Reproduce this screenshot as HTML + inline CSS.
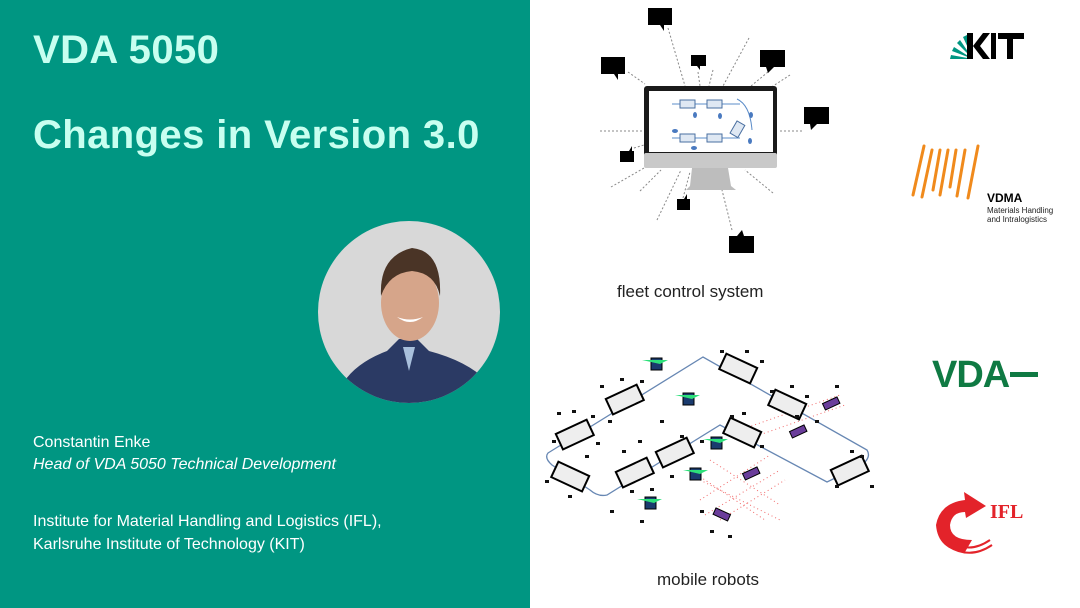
<!DOCTYPE html>
<html><head><meta charset="utf-8">
<style>
html,body{margin:0;padding:0;}
body{width:1080px;height:608px;position:relative;overflow:hidden;background:#fff;font-family:"Liberation Sans",Arial,sans-serif;}
#left{position:absolute;left:0;top:0;width:530px;height:608px;background:#009682;}
.t{position:absolute;left:33px;color:#c8fff0;font-weight:bold;font-size:40px;letter-spacing:0.4px;white-space:nowrap;}
.s{position:absolute;left:33px;color:#fff;font-size:16px;white-space:nowrap;}
</style></head><body>
<div id="left">
<div class="t" style="top:28px;">VDA 5050</div>
<div class="t" style="top:113px;">Changes in Version 3.0</div>
<svg style="position:absolute;left:317px;top:221px" width="184" height="184" viewBox="0 0 184 184">
<defs><clipPath id="c"><circle cx="92" cy="91" r="91"/></clipPath></defs>
<g clip-path="url(#c)">
<rect width="184" height="184" fill="#d8d8d8"/>
<path d="M20 175 Q30 145 70 130 L82 118 L100 118 L112 130 Q150 140 170 160 L184 184 L0 184 Z" fill="#2b3a64"/>
<path d="M86 126 L92 150 L98 126 Z" fill="#a9c0dc"/>
<ellipse cx="93" cy="82" rx="29" ry="38" fill="#d6a58a"/>
<path d="M64 75 Q62 35 95 27 Q125 30 123 75 Q118 52 95 50 Q72 52 64 75 Z" fill="#4a3426"/>
<path d="M80 96 Q93 106 106 96 Q93 101 80 96Z" fill="#fff"/>
</g></svg>
<div class="s" style="top:434px;">Constantin Enke</div>
<div class="s" style="top:456px;font-style:italic;">Head of VDA 5050 Technical Development</div>
<div class="s" style="top:513px;">Institute for Material Handling and Logistics (IFL),</div>
<div class="s" style="top:536px;">Karlsruhe Institute of Technology (KIT)</div>
</div>

<svg style="position:absolute;left:530px;top:0" width="550" height="608" viewBox="530 0 550 608">
<g stroke="#888" stroke-width="1" stroke-dasharray="2,2">
<line x1="668" y1="28" x2="685" y2="86"/><line x1="628" y1="72" x2="645" y2="84"/>
<line x1="698" y1="72" x2="700" y2="86"/><line x1="713" y1="70" x2="709" y2="86"/>
<line x1="749" y1="38" x2="723" y2="86"/><line x1="768" y1="72" x2="751" y2="86"/>
<line x1="790" y1="75" x2="770" y2="88"/><line x1="600" y1="131" x2="644" y2="131"/>
<line x1="780" y1="131" x2="803" y2="131"/><line x1="634" y1="148" x2="644" y2="145"/>
<line x1="611" y1="187" x2="644" y2="168"/><line x1="640" y1="191" x2="661" y2="170"/>
<line x1="657" y1="220" x2="681" y2="170"/><line x1="683" y1="198" x2="690" y2="172"/>
<line x1="773" y1="193" x2="745" y2="170"/><line x1="732" y1="230" x2="722" y2="190"/>
</g>
<g fill="#000">
<rect x="648" y="8" width="24" height="17"/><path d="M660 25 L664 31 L664 25Z"/>
<rect x="601" y="57" width="24" height="17"/><path d="M614 74 L618 80 L618 74Z"/>
<rect x="691" y="55" width="15" height="11"/><path d="M697 66 L700 70 L700 66Z"/>
<rect x="760" y="50" width="25" height="17"/><path d="M766 67 L768 73 L774 67Z"/>
<rect x="804" y="107" width="25" height="17"/><path d="M810 124 L811 130 L817 124Z"/>
<rect x="620" y="151" width="14" height="11"/><path d="M629 151 L632 146 L632 151Z"/>
<rect x="677" y="199" width="13" height="11"/><path d="M684 199 L687 194 L687 199Z"/>
<rect x="729" y="236" width="25" height="17"/><path d="M737 236 L742 230 L744 236Z"/>
</g>
<rect x="644" y="86" width="133" height="82" rx="3" fill="#1a1a1a"/>
<rect x="649" y="91" width="124" height="61" fill="#fff"/>
<rect x="644" y="153" width="133" height="15" rx="2" fill="#c9c9c9"/>
<path d="M692 168 L728 168 L731 186 L736 190 L686 190 L690 186Z" fill="#bdbdbd"/>
<g fill="none" stroke="#5b8cc8" stroke-width="1">
<line x1="672" y1="104" x2="740" y2="104"/><line x1="672" y1="138" x2="740" y2="138"/>
<path d="M737 99 Q750 105 752 130" /></g>
<g fill="#dfe8f3" stroke="#4a6fa0" stroke-width="1">
<rect x="680" y="100" width="15" height="8"/><rect x="707" y="100" width="15" height="8"/>
<rect x="680" y="134" width="15" height="8"/><rect x="707" y="134" width="15" height="8"/>
<rect x="733" y="122" width="9" height="14" transform="rotate(30 737 129)"/>
</g>
<g fill="#4a7ac0"><ellipse cx="695" cy="115" rx="2" ry="3"/><ellipse cx="720" cy="116" rx="2" ry="3"/><ellipse cx="675" cy="131" rx="3" ry="2"/><ellipse cx="694" cy="148" rx="3" ry="2"/><ellipse cx="751" cy="115" rx="2" ry="3"/><ellipse cx="750" cy="141" rx="2" ry="3"/></g>
<text x="617" y="297" font-family="'Liberation Sans',sans-serif" font-size="17" fill="#222">fleet control system</text>

<path d="M548 453 L703 357 L867 450 Q872 458 860 466 L827 482 L720 425 L607 495 Q598 497 590 490 L552 465 Q544 458 548 453Z" fill="none" stroke="#6787b3" stroke-width="1.3"/>
<g stroke="#e44" stroke-width="1" stroke-dasharray="1,3" opacity="0.8">
<line x1="700" y1="480" x2="780" y2="520"/><line x1="690" y1="470" x2="765" y2="520"/><line x1="710" y1="460" x2="780" y2="505"/>
<line x1="705" y1="515" x2="780" y2="470"/><line x1="700" y1="500" x2="770" y2="455"/><line x1="720" y1="520" x2="785" y2="480"/>
<line x1="740" y1="430" x2="840" y2="395"/><line x1="745" y1="440" x2="845" y2="405"/>
</g>
<g stroke="#000" stroke-width="2" fill="#eee">
<rect x="608" y="391" width="34" height="17" transform="rotate(-25 625 400)"/>
<rect x="558" y="426" width="34" height="17" transform="rotate(-25 575 435)"/>
<rect x="553" y="468" width="34" height="17" transform="rotate(25 570 477)"/>
<rect x="618" y="464" width="34" height="17" transform="rotate(-25 635 473)"/>
<rect x="658" y="444" width="34" height="17" transform="rotate(-25 675 453)"/>
<rect x="721" y="360" width="34" height="17" transform="rotate(25 738 369)"/>
<rect x="770" y="396" width="34" height="17" transform="rotate(25 787 405)"/>
<rect x="725" y="424" width="34" height="17" transform="rotate(25 742 433)"/>
<rect x="833" y="462" width="34" height="17" transform="rotate(-25 850 471)"/>
</g>
<g fill="#6a3d9a" stroke="#000" stroke-width="1">
<rect x="823" y="400" width="16" height="7" transform="rotate(-25 831 403)"/>
<rect x="790" y="428" width="16" height="7" transform="rotate(-25 798 431)"/>
<rect x="743" y="470" width="16" height="7" transform="rotate(-25 751 473)"/>
<rect x="714" y="511" width="16" height="7" transform="rotate(25 722 514)"/>
</g>
<g fill="#1a3b6e" stroke="#000">
<rect x="651" y="358" width="11" height="12"/><rect x="683" y="393" width="11" height="12"/>
<rect x="711" y="437" width="11" height="12"/><rect x="690" y="468" width="11" height="12"/><rect x="645" y="497" width="11" height="12"/>
</g>
<g fill="#2de07a"><path d="M642 360 L668 360 L660 364Z"/><path d="M675 395 L700 395 L692 399Z"/><path d="M703 439 L728 439 L720 443Z"/><path d="M683 470 L708 470 L700 474Z"/><path d="M637 499 L662 499 L654 503Z"/></g>
<g fill="#111">
<rect x="557" y="412" width="4" height="3"/><rect x="591" y="415" width="4" height="3"/><rect x="600" y="385" width="4" height="3"/><rect x="640" y="380" width="4" height="3"/><rect x="608" y="420" width="4" height="3"/><rect x="568" y="495" width="4" height="3"/><rect x="585" y="455" width="4" height="3"/><rect x="622" y="450" width="4" height="3"/><rect x="650" y="488" width="4" height="3"/><rect x="680" y="435" width="4" height="3"/><rect x="720" y="350" width="4" height="3"/><rect x="760" y="360" width="4" height="3"/><rect x="770" y="390" width="4" height="3"/><rect x="805" y="395" width="4" height="3"/><rect x="815" y="420" width="4" height="3"/><rect x="850" y="450" width="4" height="3"/><rect x="870" y="485" width="4" height="3"/><rect x="742" y="412" width="4" height="3"/><rect x="760" y="445" width="4" height="3"/><rect x="700" y="510" width="4" height="3"/><rect x="728" y="535" width="4" height="3"/><rect x="610" y="510" width="4" height="3"/><rect x="835" y="385" width="4" height="3"/><rect x="660" y="420" width="4" height="3"/>
<rect x="572" y="410" width="4" height="3"/><rect x="620" y="378" width="4" height="3"/><rect x="552" y="440" width="4" height="3"/><rect x="596" y="442" width="4" height="3"/><rect x="545" y="480" width="4" height="3"/><rect x="638" y="440" width="4" height="3"/><rect x="700" y="440" width="4" height="3"/><rect x="745" y="350" width="4" height="3"/><rect x="790" y="385" width="4" height="3"/><rect x="795" y="415" width="4" height="3"/><rect x="730" y="415" width="4" height="3"/><rect x="860" y="455" width="4" height="3"/><rect x="835" y="485" width="4" height="3"/><rect x="630" y="490" width="4" height="3"/><rect x="670" y="475" width="4" height="3"/><rect x="640" y="520" width="4" height="3"/><rect x="710" y="530" width="4" height="3"/>
</g>
<text x="657" y="585" font-family="'Liberation Sans',sans-serif" font-size="17" fill="#222">mobile robots</text>

<g fill="#009682"><path d="M973 59 L950 59 L951 55Z"/><path d="M973 59 L952 51 L954 47Z"/><path d="M973 59 L957 43 L960 40Z"/><path d="M973 59 L963 37 L967 35Z"/></g>
<g fill="#000"><path d="M967 33 L973 33 L973 59 L967 59Z"/><path d="M973 46 L983 33 L990 33 L980 46 L990 59 L983 59Z"/><rect x="991" y="33" width="5" height="26"/><rect x="998" y="33" width="26" height="6"/><rect x="1007" y="33" width="6" height="26"/></g>
<g stroke="#f08a1c" stroke-width="3" fill="none" stroke-linecap="round">
<path d="M924 146 L913 195"/><path d="M932 150 L922 197"/><path d="M940 150 L933 190"/><path d="M948 150 L940 195"/><path d="M956 150 L950 187"/><path d="M965 150 L957 196"/><path d="M978 146 L968 198"/>
</g>
<text x="987" y="202" font-family="'Liberation Sans',sans-serif" font-size="12" font-weight="bold" fill="#000">VDMA</text>
<text x="987" y="213" font-family="'Liberation Sans',sans-serif" font-size="8" fill="#222">Materials Handling</text>
<text x="987" y="222" font-family="'Liberation Sans',sans-serif" font-size="8" fill="#222">and Intralogistics</text>
<text x="932" y="387" font-family="'Liberation Sans',sans-serif" font-size="38" font-weight="bold" fill="#0f7a43" letter-spacing="-1">VDA</text>
<rect x="1010" y="372" width="28" height="5" fill="#0f7a43"/>
<path d="M965 500 Q940 503 936 525 Q938 550 965 552 L972 540 Q950 540 950 525 Q952 512 965 512 L966 518 L986 506 L964 492Z" fill="#e3232a"/>
<g stroke="#e3232a" stroke-width="2" fill="none"><path d="M950 540 Q968 555 990 540"/><path d="M948 546 Q970 560 992 545"/></g>
<text x="990" y="518" font-family="'Liberation Serif',serif" font-size="20" font-weight="bold" fill="#e3232a">IFL</text>
</svg>
</body></html>
